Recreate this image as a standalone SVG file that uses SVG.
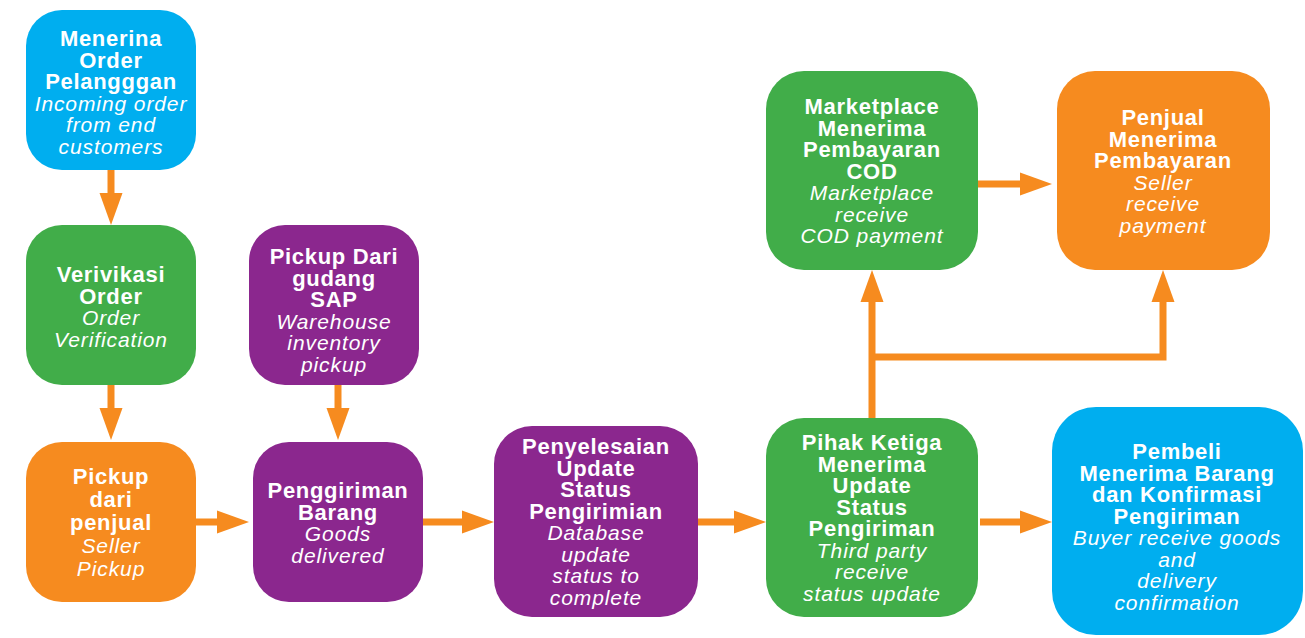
<svg xmlns="http://www.w3.org/2000/svg" width="1305" height="638" viewBox="0 0 1305 638">
  <style>
    .blue{fill:#00AEEF}
    .green{fill:#41AD49}
    .orange{fill:#F68B1F}
    .purple{fill:#8B278E}
    text{font-family:"Liberation Sans",Arial,sans-serif;font-size:21px;fill:#FFFFFF;text-anchor:middle}
    .b{font-weight:bold;font-size:22px;letter-spacing:0.7px}
    .i{font-style:italic;letter-spacing:0.9px}
    .conn{fill:none;stroke:#F68B1F;stroke-width:7;stroke-linejoin:miter}
  </style>
  <defs>
    <marker id="ah" markerUnits="userSpaceOnUse" markerWidth="32" markerHeight="24" refX="12" refY="12" orient="auto" overflow="visible">
      <path d="M0,0.5 L32,12 L0,23.5 Z" fill="#F68B1F"/>
    </marker>
  </defs>
  <rect width="1305" height="638" fill="#FFFFFF"/>

  <g id="connectors">
    <line class="conn" x1="111" y1="170" x2="111" y2="205" marker-end="url(#ah)"/>
    <line class="conn" x1="111" y1="385" x2="111" y2="420" marker-end="url(#ah)"/>
    <line class="conn" x1="338" y1="385" x2="338" y2="420" marker-end="url(#ah)"/>
    <line class="conn" x1="196" y1="522" x2="229" y2="522" marker-end="url(#ah)"/>
    <line class="conn" x1="423" y1="522" x2="474" y2="522" marker-end="url(#ah)"/>
    <line class="conn" x1="698" y1="522" x2="746" y2="522" marker-end="url(#ah)"/>
    <line class="conn" x1="980" y1="522" x2="1032" y2="522" marker-end="url(#ah)"/>
    <line class="conn" x1="872" y1="418" x2="872" y2="290" marker-end="url(#ah)"/>
    <polyline class="conn" points="872,357 1163,357 1163,290" marker-end="url(#ah)"/>
    <line class="conn" x1="978" y1="184" x2="1032" y2="184" marker-end="url(#ah)"/>
  </g>

  <g id="node-menerina-order">
    <rect class="blue" x="26" y="10" width="170" height="160" rx="36"/>
    <text class="b" x="111" y="46">Menerina</text>
    <text class="b" x="111" y="67.5">Order</text>
    <text class="b" x="111" y="89">Pelangggan</text>
    <text class="i" x="111" y="110.5">Incoming order</text>
    <text class="i" x="111" y="132">from end</text>
    <text class="i" x="111" y="153.5">customers</text>
  </g>

  <g id="node-verivikasi-order">
    <rect class="green" x="26" y="225" width="170" height="160" rx="36"/>
    <text class="b" x="111" y="282">Verivikasi</text>
    <text class="b" x="111" y="303.5">Order</text>
    <text class="i" x="111" y="325">Order</text>
    <text class="i" x="111" y="346.5">Verification</text>
  </g>

  <g id="node-pickup-penjual">
    <rect class="orange" x="26" y="442" width="170" height="160" rx="36"/>
    <text class="b" x="111" y="484">Pickup</text>
    <text class="b" x="111" y="507">dari</text>
    <text class="b" x="111" y="530">penjual</text>
    <text class="i" x="111" y="553">Seller</text>
    <text class="i" x="111" y="576">Pickup</text>
  </g>

  <g id="node-pickup-gudang">
    <rect class="purple" x="249" y="225" width="170" height="160" rx="36"/>
    <text class="b" x="334" y="264">Pickup Dari</text>
    <text class="b" x="334" y="285.5">gudang</text>
    <text class="b" x="334" y="307">SAP</text>
    <text class="i" x="334" y="328.5">Warehouse</text>
    <text class="i" x="334" y="350">inventory</text>
    <text class="i" x="334" y="371.5">pickup</text>
  </g>

  <g id="node-penggiriman-barang">
    <rect class="purple" x="253" y="442" width="170" height="160" rx="36"/>
    <text class="b" x="338" y="498">Penggiriman</text>
    <text class="b" x="338" y="519.5">Barang</text>
    <text class="i" x="338" y="541">Goods</text>
    <text class="i" x="338" y="562.5">delivered</text>
  </g>

  <g id="node-penyelesaian">
    <rect class="purple" x="494" y="426" width="204" height="191" rx="38"/>
    <text class="b" x="596" y="454">Penyelesaian</text>
    <text class="b" x="596" y="475.5">Update</text>
    <text class="b" x="596" y="497">Status</text>
    <text class="b" x="596" y="518.5">Pengirimian</text>
    <text class="i" x="596" y="540">Database</text>
    <text class="i" x="596" y="561.5">update</text>
    <text class="i" x="596" y="583">status to</text>
    <text class="i" x="596" y="604.5">complete</text>
  </g>

  <g id="node-pihak-ketiga">
    <rect class="green" x="766" y="418" width="212" height="199" rx="38"/>
    <text class="b" x="872" y="450">Pihak Ketiga</text>
    <text class="b" x="872" y="471.5">Menerima</text>
    <text class="b" x="872" y="493">Update</text>
    <text class="b" x="872" y="514.5">Status</text>
    <text class="b" x="872" y="536">Pengiriman</text>
    <text class="i" x="872" y="557.5">Third party</text>
    <text class="i" x="872" y="579">receive</text>
    <text class="i" x="872" y="600.5">status update</text>
  </g>

  <g id="node-pembeli">
    <rect class="blue" x="1052" y="407" width="251" height="228" rx="44"/>
    <text class="b" x="1177" y="459">Pembeli</text>
    <text class="b" x="1177" y="480.5">Menerima Barang</text>
    <text class="b" x="1177" y="502">dan Konfirmasi</text>
    <text class="b" x="1177" y="523.5">Pengiriman</text>
    <text class="i" x="1177" y="545">Buyer receive goods</text>
    <text class="i" x="1177" y="566.5">and</text>
    <text class="i" x="1177" y="588">delivery</text>
    <text class="i" x="1177" y="609.5">confirmation</text>
  </g>

  <g id="node-marketplace">
    <rect class="green" x="766" y="71" width="212" height="199" rx="38"/>
    <text class="b" x="872" y="114">Marketplace</text>
    <text class="b" x="872" y="135.5">Menerima</text>
    <text class="b" x="872" y="157">Pembayaran</text>
    <text class="b" x="872" y="178.5">COD</text>
    <text class="i" x="872" y="200">Marketplace</text>
    <text class="i" x="872" y="221.5">receive</text>
    <text class="i" x="872" y="243">COD payment</text>
  </g>

  <g id="node-penjual-menerima">
    <rect class="orange" x="1057" y="71" width="213" height="199" rx="38"/>
    <text class="b" x="1163" y="125">Penjual</text>
    <text class="b" x="1163" y="146.5">Menerima</text>
    <text class="b" x="1163" y="168">Pembayaran</text>
    <text class="i" x="1163" y="189.5">Seller</text>
    <text class="i" x="1163" y="211">receive</text>
    <text class="i" x="1163" y="232.5">payment</text>
  </g>
</svg>
